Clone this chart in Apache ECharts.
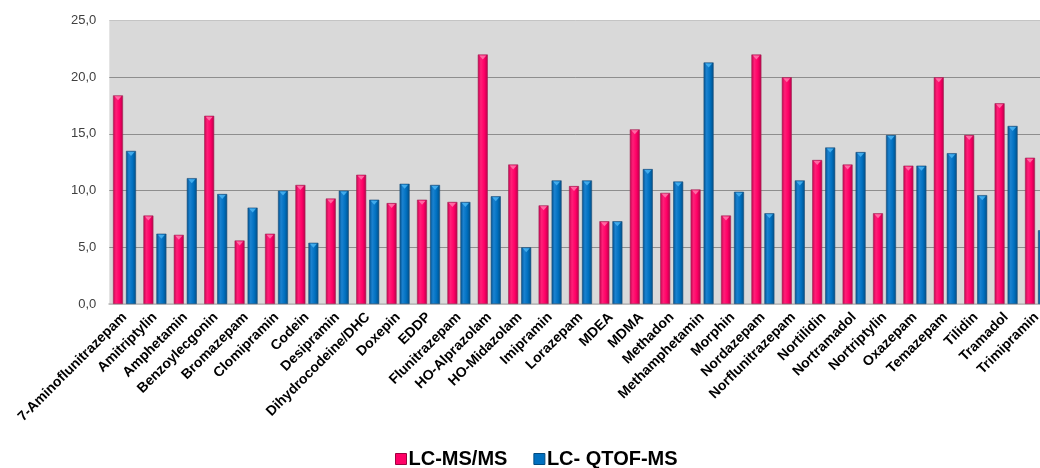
<!DOCTYPE html>
<html>
<head>
<meta charset="utf-8">
<script src="https://cdn.jsdelivr.net/npm/echarts@6/dist/echarts.min.js"></script>
<style>
html,body{margin:0;padding:0;background:#fff;}
#chart{width:1040px;height:468px;}
</style>
</head>
<body>
<div id="chart"></div>
<script>
const categories = ['7-Aminoflunitrazepam','Amitriptylin','Amphetamin','Benzoylecgonin','Bromazepam','Clomipramin','Codein','Desipramin','Dihydrocodeine/DHC','Doxepin','EDDP','Flunitrazepam','HO-Alprazolam','HO-Midazolam','Imipramin','Lorazepam','MDEA','MDMA','Methadon','Methamphetamin','Morphin','Nordazepam','Norflunitrazepam','Nortilidin','Nortramadol','Nortriptylin','Oxazepam','Temazepam','Tilidin','Tramadol','Trimipramin'];
const lcmsms = [18.4,7.8,6.1,16.6,5.6,6.2,10.5,9.3,11.4,8.9,9.2,9.0,22.0,12.3,8.7,10.4,7.3,15.4,9.8,10.1,7.8,22.0,20.0,12.7,12.3,8.0,12.2,20.0,14.9,17.7,12.9];
const qtof = [13.5,6.2,11.1,9.7,8.5,10.0,5.4,10.0,9.2,10.6,10.5,9.0,9.5,5.0,10.9,10.9,7.3,11.9,10.8,21.3,9.9,8.0,10.9,13.8,13.4,14.9,12.2,13.3,9.6,15.7,6.5];
const seriesNames = ['LC-MS/MS','LC- QTOF-MS'];
const yTicks = {min:0, max:25, interval:5};

const redGrad = new echarts.graphic.LinearGradient(0,0,1,0,[
  {offset:0,color:'#c2004d'},{offset:0.3,color:'#ff1f78'},{offset:0.65,color:'#ff0066'},{offset:1,color:'#b50049'}]);
const blueGrad = new echarts.graphic.LinearGradient(0,0,1,0,[
  {offset:0,color:'#00508e'},{offset:0.3,color:'#1a82d0'},{offset:0.65,color:'#0070c0'},{offset:1,color:'#004e86'}]);

const chart = echarts.init(document.getElementById('chart'), null, {renderer:'canvas'});
chart.setOption({
  animation:false,
  backgroundColor:'#ffffff',
  grid:{left:109.3, width:942.4, top:20.5, bottom:164, show:true, backgroundColor:'#d9d9d9', borderWidth:0,
        outerBoundsMode:'none', containLabel:false},
  legend:{
    data:[{name:seriesNames[0], itemStyle:{color:'#ff0066', borderColor:'#a0003f', borderWidth:1}},
          {name:seriesNames[1], itemStyle:{color:'#0070c0', borderColor:'#004b80', borderWidth:1}}],
    left:390, top:444, itemWidth:11, itemHeight:11, itemGap:26,
    icon:'rect',
    textStyle:{fontFamily:'Liberation Sans', fontWeight:'bold', fontSize:20, color:'#000', padding:[0,0,0,-3]}
  },
  xAxis:{
    type:'category', data:categories,
    axisTick:{show:false},
    axisLine:{show:true, lineStyle:{color:'#bfbfbf', width:2}},
    axisLabel:{interval:0, rotate:45, fontFamily:'Liberation Sans', fontWeight:'bold', fontSize:14, color:'#000', margin:11}
  },
  yAxis:{
    type:'value', min:yTicks.min, max:yTicks.max, interval:yTicks.interval,
    axisLine:{show:false}, axisTick:{show:false},
    axisLabel:{fontFamily:'Liberation Sans', fontSize:13, color:'#404040', margin:13,
      formatter:v=>v.toFixed(1).replace('.',',')},
    splitLine:{lineStyle:{color:['#bfbfbf','#8e8e8e','#8e8e8e','#8e8e8e','#8e8e8e','#c4c4c4'], width:1}}
  },
  series:[
    {name:seriesNames[0], type:'bar', data:lcmsms, barWidth:10, barGap:'30%',
     itemStyle:{color:redGrad, borderColor:'#9e2a55', borderWidth:0.6}},
    {name:seriesNames[1], type:'bar', data:qtof, barWidth:10,
     itemStyle:{color:blueGrad, borderColor:'#1f4f78', borderWidth:0.6}},
    {type:'scatter', data:lcmsms, symbol:'triangle', symbolRotate:180, symbolSize:[7,4], symbolOffset:[-6.5,3],
     itemStyle:{color:'#ff7fb0'}, silent:true, z:5},
    {type:'scatter', data:qtof, symbol:'triangle', symbolRotate:180, symbolSize:[7,4], symbolOffset:[6.5,3],
     itemStyle:{color:'#4db8f5'}, silent:true, z:5}
  ]
});
</script>
</body>
</html>
